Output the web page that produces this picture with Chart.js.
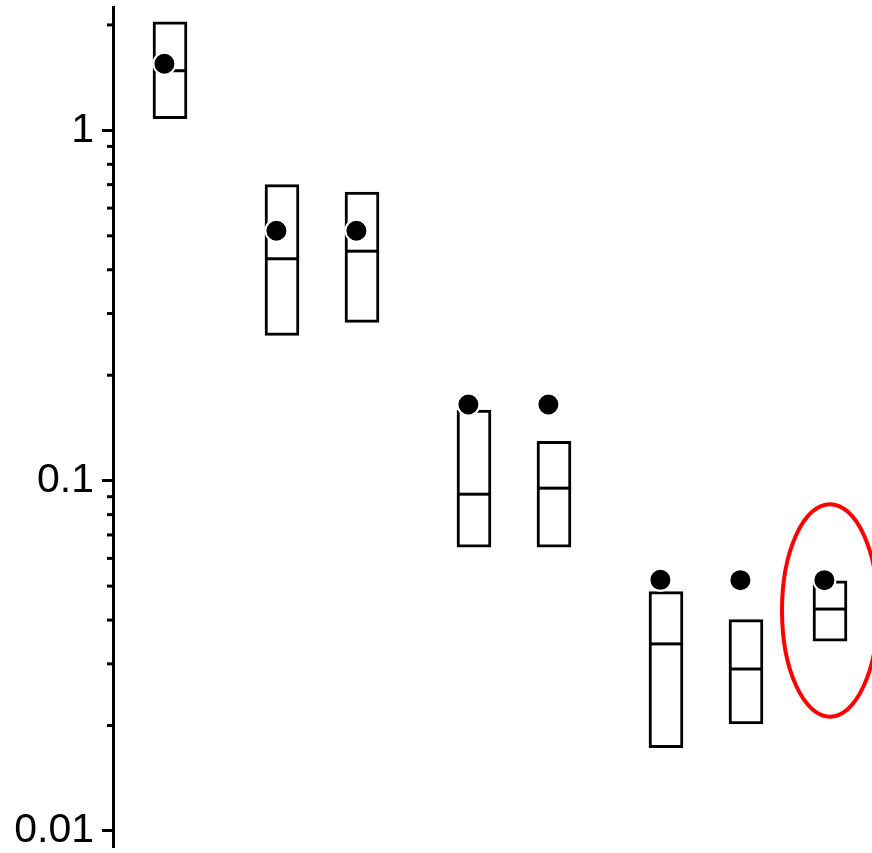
<!DOCTYPE html>
<html>
<head>
<meta charset="utf-8">
<script src="https://cdn.jsdelivr.net/npm/chart.js@4.4.1/dist/chart.umd.min.js"></script>
<style>
  html, body { margin: 0; padding: 0; background: #fff; }
  #wrap { width: 872px; height: 853px; position: relative; }
</style>
</head>
<body>
<div id="wrap"><canvas id="chart"></canvas></div>
<script>
// group positions on the x axis (groups of 1, 2, 2, 3)
const xPos = [1, 2.4, 3.4, 4.8, 5.8, 7.2, 8.2, 9.25];
// box bounds, medians and dot values
const boxLow  = [1.08, 0.26, 0.283, 0.0646, 0.0646, 0.0173, 0.0202, 0.0348];
const boxHigh = [2.04, 0.70, 0.667, 0.159, 0.1296, 0.0482, 0.0401, 0.0518];
const medians = [1.48, 0.43, 0.452, 0.0915, 0.0952, 0.0342, 0.0290, 0.0430];
const dots    = [1.55, 0.517, 0.517, 0.165, 0.165, 0.0521, 0.052, 0.052];
// y tick labels
const majorTicks = [0.01, 0.1, 1];
// highlighted box (index into arrays above)
const highlightIdx = 7;

const boxes = xPos.map((x, i) => ({ x: x, y: [boxLow[i], boxHigh[i]] }));
const medianPts = xPos.map((x, i) => ({ x: x, y: medians[i] }));
const dotPts = xPos.map((x, i) => ({ x: x - 0.07, y: dots[i] }));

// minor ticks on the log axis (2..9 per decade)
const minorTicks = {
    id: 'minorTicks',
    afterDraw(chart) {
        const y = chart.scales.y;
        const ctx = chart.ctx;
        const left = chart.chartArea.left;
        ctx.save();
        ctx.strokeStyle = '#000';
        ctx.lineWidth = 3;
        for (let d = 0.01; d < 10; d *= 10) {
            for (let k = 2; k <= 9; k++) {
                const v = k * d;
                if (v < y.min || v > y.max) continue;
                const py = y.getPixelForValue(v);
                ctx.beginPath();
                ctx.moveTo(left - 6, py);
                ctx.lineTo(left, py);
                ctx.stroke();
            }
        }
        ctx.restore();
    }
};

// red ellipse around the highlighted box
const highlight = {
    id: 'highlight',
    afterDatasetsDraw(chart) {
        const xs = chart.scales.x, ys = chart.scales.y;
        const ctx = chart.ctx;
        const cx = xs.getPixelForValue(xPos[highlightIdx]);
        const rx = xs.getPixelForValue(xPos[highlightIdx] + 0.6) - cx;
        const top = ys.getPixelForValue(0.0857);
        const bottom = ys.getPixelForValue(0.0212);
        ctx.save();
        ctx.strokeStyle = '#ff0000';
        ctx.lineWidth = 4;
        ctx.beginPath();
        ctx.ellipse(cx, (top + bottom) / 2, rx, (bottom - top) / 2, 0, 0, Math.PI * 2);
        ctx.stroke();
        ctx.restore();
    }
};

new Chart(document.getElementById('chart'), {
    type: 'bar',
    data: {
        datasets: [{
            type: 'scatter',
            data: dotPts,
            pointRadius: 11,
            pointBackgroundColor: '#000',
            pointBorderColor: '#fff',
            pointBorderWidth: 2,
            order: 0
        }, {
            type: 'scatter',
            data: medianPts,
            pointStyle: 'line',
            pointRadius: 15,
            pointBorderColor: '#000',
            pointBorderWidth: 3,
            order: 1
        }, {
            data: boxes,
            backgroundColor: '#fff',
            borderColor: '#000',
            borderWidth: 3,
            borderSkipped: false,
            barThickness: 34,
            order: 2
        }]
    },
    options: {
        responsive: true,
        maintainAspectRatio: false,
        animation: false,
        layout: { autoPadding: false, padding: { top: 7, bottom: 6, left: 0, right: 0 } },
        plugins: { legend: { display: false }, tooltip: { enabled: false } },
        scales: {
            x: {
                type: 'linear',
                min: 0.2875,
                max: 9.775,
                offset: false,
                grid: { offset: false },
                display: false
            },
            y: {
                type: 'logarithmic',
                min: 0.009,
                max: 2.25,
                afterBuildTicks(scale) {
                    scale.ticks = majorTicks.map(v => ({ value: v }));
                },
                afterFit(scale) {
                    scale.width = 113;
                    scale.paddingTop = 0;
                    scale.paddingBottom = 0;
                },
                border: { display: true, color: '#000', width: 3 },
                grid: {
                    drawOnChartArea: false,
                    tickLength: 11,
                    tickWidth: 3,
                    tickColor: '#000'
                },
                ticks: {
                    color: '#000',
                    padding: 8,
                    font: { family: 'Liberation Sans, Arial, sans-serif', size: 41, lineHeight: 1 },
                    callback: v => String(v)
                }
            }
        }
    },
    plugins: [minorTicks, highlight]
});
</script>
</body>
</html>
